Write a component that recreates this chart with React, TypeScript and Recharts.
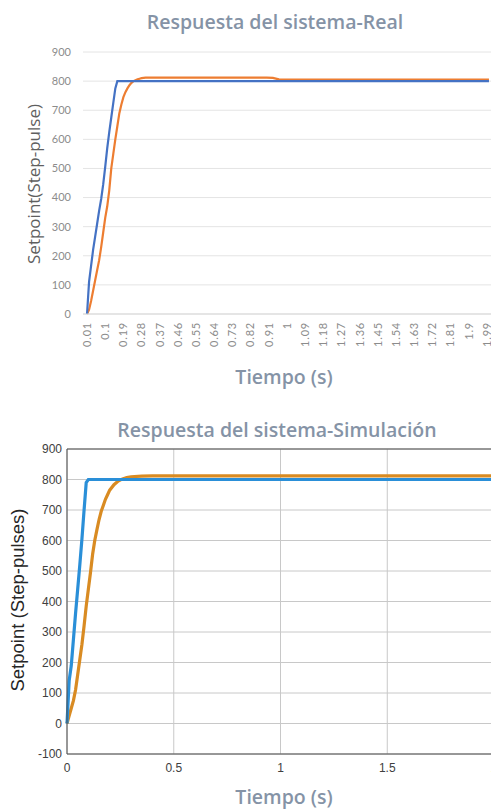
import { LineChart, Line, XAxis, YAxis, CartesianGrid, ReferenceLine } from 'recharts';

// Respuesta real: tiempo (s) y pulsos medidos
const realTime = [
  0.01, 0.02, 0.03, 0.04, 0.05, 0.06, 0.07, 0.08, 0.09, 0.1,
  0.11, 0.12, 0.13, 0.14, 0.15, 0.16, 0.17, 0.18, 0.19, 0.2,
  0.21, 0.22, 0.23, 0.24, 0.25, 0.26, 0.27, 0.28, 0.29, 0.3,
  0.4, 0.5, 0.6, 0.7, 0.8, 0.9, 0.93, 0.96, 1.0, 1.2, 1.4, 1.6, 1.8, 2.0,
];
const realSetpoint = [
  0, 110, 165, 220, 265, 310, 355, 395, 445, 505,
  570, 625, 675, 725, 775, 800, 800, 800, 800, 800,
  800, 800, 800, 800, 800, 800, 800, 800, 800, 800,
  800, 800, 800, 800, 800, 800, 800, 800, 800, 800, 800, 800, 800, 800,
];
const realResponse = [
  0, 15, 45, 80, 115, 150, 185, 230, 280, 330,
  370, 425, 500, 550, 600, 645, 690, 720, 745, 762,
  775, 786, 794, 800, 803, 806, 808, 810, 811, 812,
  812, 812, 812, 812, 812, 812, 811, 806, 805, 805, 805, 805, 805, 805,
];
const realTicks = [
  0.01, 0.1, 0.19, 0.28, 0.37, 0.46, 0.55, 0.64, 0.73, 0.82, 0.91, 1,
  1.09, 1.18, 1.27, 1.36, 1.45, 1.54, 1.63, 1.72, 1.81, 1.9, 1.99,
];
const realYTicks = [0, 100, 200, 300, 400, 500, 600, 700, 800, 900];

// Respuesta simulada
const simTime = [
  0, 0.01, 0.02, 0.03, 0.04, 0.05, 0.06, 0.07, 0.08, 0.09, 0.1,
  0.11, 0.12, 0.13, 0.14, 0.15, 0.16, 0.17, 0.18, 0.19, 0.2,
  0.22, 0.24, 0.26, 0.28, 0.3, 0.35, 0.4, 0.6, 0.8, 1.0, 1.2, 1.4, 1.6, 1.8, 2.0,
];
const simSetpoint = [
  0, 140, 190, 275, 360, 440, 520, 605, 700, 790, 800,
  800, 800, 800, 800, 800, 800, 800, 800, 800, 800,
  800, 800, 800, 800, 800, 800, 800, 800, 800, 800, 800, 800, 800, 800, 800,
];
const simResponse = [
  0, 25, 50, 75, 110, 160, 210, 260, 320, 385, 440,
  495, 555, 600, 635, 668, 695, 715, 735, 750, 765,
  783, 795, 802, 806, 809, 811, 812, 812, 812, 812, 812, 812, 812, 812, 812,
];
const simTicks = [0, 0.5, 1, 1.5, 2];
const simYTicks = [-100, 0, 100, 200, 300, 400, 500, 600, 700, 800, 900];

const realRows = realTime.map((t, i) => ({ t, setpoint: realSetpoint[i], response: realResponse[i] }));
const simRows = simTime.map((t, i) => ({ t, setpoint: simSetpoint[i], response: simResponse[i] }));

const excelFont = '"Open Sans", Lato, sans-serif';
const tickFont = 'Lato, "Open Sans", sans-serif';
const matlabFont = '"Liberation Sans", Arial, sans-serif';
const titleColor = '#8593a6';

const RotatedTick = (props: { x: number; y: number; payload: { value: number } }) => {
  const { x, y, payload } = props;
  return (
    <text
      x={x}
      y={y}
      dy="0.35em"
      textAnchor="end"
      transform={`rotate(-90, ${x}, ${y})`}
      fontFamily={tickFont}
      fontSize={11}
      letterSpacing={0.8}
      fill="#8c8c8c"
    >
      {String(payload.value)}
    </text>
  );
};

const App = () => {
  return (
    <div
      style={{
        position: 'absolute',
        left: 0,
        top: 0,
        width: 491,
        height: 810,
        overflow: 'hidden',
        background: '#fff',
      }}
    >
      <div style={{ position: 'absolute', left: 0, top: 0 }}>
        <LineChart width={493} height={400} data={realRows} margin={{ top: 52, right: 0, left: 23, bottom: 0 }}>
          <CartesianGrid vertical={false} stroke="#e4e4e4" />
          <XAxis
            dataKey="t"
            type="number"
            domain={[-0.01, 2.02]}
            ticks={realTicks}
            interval={0}
            height={86}
            tick={RotatedTick}
            tickLine={false}
            tickSize={0}
            tickMargin={8}
            axisLine={{ stroke: '#d9d9d9' }}
            allowDataOverflow
          />
          <YAxis
            type="number"
            domain={[0, 900]}
            ticks={realYTicks}
            width={60}
            axisLine={false}
            tickLine={false}
            tickSize={0}
            tickMargin={12}
            tick={{ fontSize: 11, fill: '#8c8c8c', fontFamily: tickFont }}
          />
          <Line
            dataKey="response"
            stroke="#ed7d31"
            strokeWidth={2.2}
            dot={false}
            isAnimationActive={false}
          />
          <Line
            dataKey="setpoint"
            stroke="#4472c4"
            strokeWidth={2.2}
            dot={false}
            isAnimationActive={false}
          />
        </LineChart>
      </div>

      <div style={{ position: 'absolute', left: 0, top: 400 }}>
        <LineChart width={494} height={410} data={simRows} margin={{ top: 49, right: 0, left: 17, bottom: 0 }}>
          <CartesianGrid stroke="#c8c8c8" />
          <XAxis
            dataKey="t"
            type="number"
            domain={[0, 2]}
            ticks={simTicks}
            interval={0}
            height={56}
            tickLine={false}
            tickSize={0}
            tickMargin={9}
            axisLine={{ stroke: '#4d4d4d' }}
            tick={{ fontSize: 12, fill: '#404040', fontFamily: matlabFont }}
          />
          <YAxis
            type="number"
            domain={[-100, 900]}
            ticks={simYTicks}
            width={50}
            tickLine={false}
            tickSize={0}
            tickMargin={5}
            axisLine={{ stroke: '#4d4d4d' }}
            tick={{ fontSize: 12, fill: '#404040', fontFamily: matlabFont }}
          />
          <ReferenceLine y={900} stroke="#4d4d4d" />
          <Line
            dataKey="response"
            stroke="#d98b22"
            strokeWidth={3.2}
            dot={false}
            isAnimationActive={false}
          />
          <Line
            dataKey="setpoint"
            stroke="#2a8fd8"
            strokeWidth={3.2}
            dot={false}
            isAnimationActive={false}
          />
        </LineChart>
      </div>

      {/* titles and axis names */}
      <svg
        width={491}
        height={810}
        style={{ position: 'absolute', left: 0, top: 0, pointerEvents: 'none' }}
      >
        <text x={275} y={29} textAnchor="middle" fontFamily={excelFont} fontWeight={600} fontSize={19.5} fill={titleColor}>
          Respuesta del sistema-Real
        </text>
        <text
          x={34}
          y={184}
          dy="0.35em"
          textAnchor="middle"
          transform="rotate(-90, 34, 184)"
          fontFamily={excelFont}
          fontSize={17}
          fill="#5f5f5f"
        >
          Setpoint(Step-pulse)
        </text>
        <text x={284} y={384} textAnchor="middle" fontFamily={excelFont} fontWeight={600} fontSize={19.5} fill={titleColor}>
          Tiempo (s)
        </text>

        <text x={277} y={437} textAnchor="middle" fontFamily={excelFont} fontWeight={600} fontSize={19.5} fill={titleColor}>
          Respuesta del sistema-Simulación
        </text>
        <text
          x={18}
          y={600}
          dy="0.35em"
          textAnchor="middle"
          transform="rotate(-90, 18, 600)"
          fontFamily={matlabFont}
          fontSize={18.5}
          fill="#262626"
        >
          Setpoint (Step-pulses)
        </text>
        <text x={284} y={804} textAnchor="middle" fontFamily={excelFont} fontWeight={600} fontSize={19.5} fill={titleColor}>
          Tiempo (s)
        </text>
      </svg>
    </div>
  );
};

export default App;
